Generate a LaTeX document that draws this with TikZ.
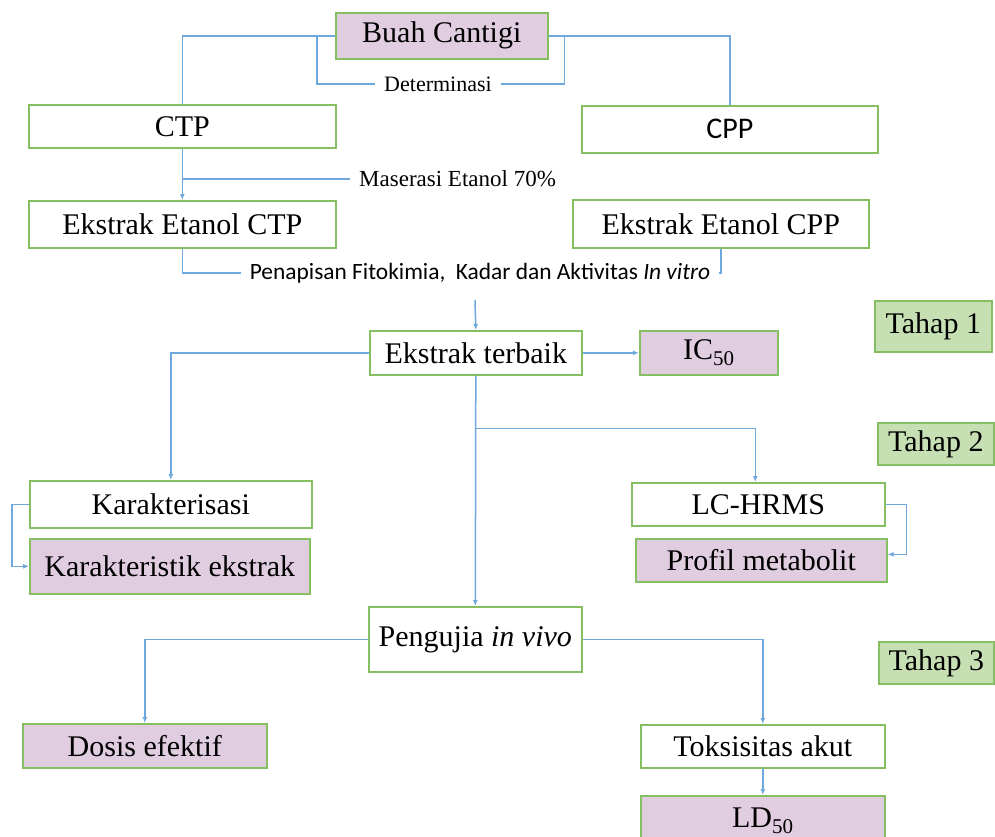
\documentclass[tikz,border=0pt]{standalone}
\usepackage{fontspec}
\setmainfont{Liberation Serif}
\newfontfamily\carlito{Carlito}
\usetikzlibrary{arrows.meta,calc}
\definecolor{lav}{HTML}{E0CDE0}
\definecolor{tgreen}{HTML}{C6E0B4}
\definecolor{bgreen}{HTML}{86BE62}
\definecolor{lblue}{HTML}{6FA8DC}
\begin{document}
\begin{tikzpicture}[x=1pt,y=-1pt,
  box/.style={draw=bgreen, line width=1.6pt, fill=white, inner sep=0pt, anchor=north west,
    font=\fontsize{30}{32}\selectfont},
  pbox/.style={box, fill=lav},
  tbox/.style={box, fill=tgreen},
  conn/.style={draw=lblue, line width=1.5pt},
  arr/.style={conn, -{Latex[length=6pt,width=5pt]}},
  lbl/.style={inner ysep=0pt, inner xsep=9pt}
]
\useasboundingbox (0,0) rectangle (995,836);
% boxes
\node[pbox, minimum width=212pt, minimum height=46pt] (buah) at (335,12) {Buah Cantigi};
\node[box, minimum width=307pt, minimum height=43pt] (ctp) at (28,104) {CTP};
\node[box, minimum width=296pt, minimum height=47pt, font=\carlito\fontsize{30}{32}\selectfont] (cpp) at (581,105) {CPP};
\node[box, minimum width=307pt, minimum height=47pt] (eectp) at (28,200) {Ekstrak Etanol CTP};
\node[box, minimum width=296pt, minimum height=48pt] (eecpp) at (572,199) {Ekstrak Etanol CPP};
\node[box, minimum width=212pt, minimum height=44pt] (terbaik) at (369,330) {Ekstrak terbaik};
\node[pbox, minimum width=138pt, minimum height=44pt] (ic) at (639,330) {IC\textsubscript{50}};
\node[tbox, minimum width=117pt, minimum height=51pt] (t1) at (874,300) {Tahap 1};
\node[tbox, minimum width=116pt, minimum height=42pt] (t2) at (877,422) {Tahap 2};
\node[box, minimum width=282pt, minimum height=47pt] (karak) at (29,480) {Karakterisasi};
\node[pbox, minimum width=280pt, minimum height=55pt] (kext) at (29,538) {Karakteristik ekstrak};
\node[box, minimum width=253pt, minimum height=43pt] (lc) at (631,482) {LC-HRMS};
\node[pbox, minimum width=251pt, minimum height=43pt] (prof) at (635,538) {Profil metabolit};
\node[box, minimum width=213pt, minimum height=65pt] (peng) at (368,606) {Pengujia \textit{in vivo}};
\node[tbox, minimum width=115pt, minimum height=42pt] (t3) at (878,641) {Tahap 3};
\node[pbox, minimum width=244pt, minimum height=44pt] (dosis) at (22,723) {Dosis efektif};
\node[box, minimum width=244pt, minimum height=43pt] (toks) at (640,724) {Toksisitas akut};
\node[pbox, minimum width=244pt, minimum height=50pt] (ld) at (640,795) {LD\textsubscript{50}};
% labels
\node[lbl, font=\fontsize{22}{24}\selectfont] (det) at (438,84) {Determinasi};
\node[lbl, anchor=west, font=\fontsize{23}{25}\selectfont] (mas) at (350,179) {Maserasi Etanol 70\%};
\node[lbl, font=\carlito\fontsize{23.4}{25}\selectfont] (pen) at (480,273) {Penapisan Fitokimia,\ \ Kadar dan Aktivitas \textit{In vitro}};
\coordinate (pstart) at (475,300);
% connectors
\draw[conn] (buah.west) -| (ctp.north);
\draw[conn] (buah.east) -| (cpp.north);
\draw[conn] ([xshift=-18pt]buah.west) |- (det.west);
\draw[conn] ([xshift=16pt]buah.east) |- (det.east);
\draw[arr] (ctp.south) -- (eectp.north);
\draw[conn] (mas.west -| ctp.south) -- (mas.west);
\draw[conn] (eectp.south) |- (pen.west);
\draw[conn] (eecpp.south) |- (pen.east);
\draw[arr] (pstart) -- (terbaik.north);
\draw[arr] (terbaik.east) -- (ic.west);
\draw[arr] (terbaik.west) -| (karak.north);
\draw[arr] (terbaik.south) -- (peng.north);
\draw[arr] ($(terbaik.south)!0.23!(peng.north)$) -| ([xshift=-3pt]lc.north);
\draw[arr] (karak.west) -- ++(-17,0) |- (kext.west);
\draw[arr] (lc.east) -- ++(21,0) |- ([yshift=6pt]prof.east);
\draw[arr] (peng.west) -| (dosis.north);
\draw[arr] (peng.east) -| (toks.north);
\draw[arr] (toks.south) -- (ld.north);
\end{tikzpicture}
\end{document}
